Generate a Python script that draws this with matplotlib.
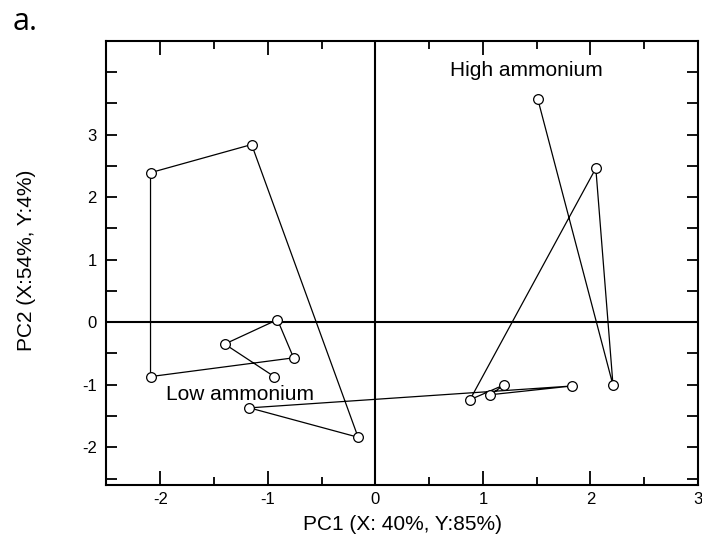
import numpy as np
import matplotlib
matplotlib.use("Agg")
import matplotlib.pyplot as plt
from matplotlib.ticker import MultipleLocator, FixedLocator

plt.rcParams['font.family'] = ['Liberation Sans', 'DejaVu Sans']
plt.rcParams['axes.unicode_minus'] = False

# PCA scores, in sampling order (low ammonium first, then high ammonium)
pc1 = [-0.94, -1.40, -0.91, -0.76, -2.09, -2.09, -1.15, -0.16, -1.17,
       1.83, 1.07, 1.20, 0.88, 2.05, 2.21, 1.51]
pc2 = [-0.87, -0.35, 0.04, -0.57, -0.87, 2.39, 2.84, -1.84, -1.37,
       -1.02, -1.16, -1.00, -1.24, 2.46, -1.01, 3.57]

x_ticks = [-2, -1, 0, 1, 2, 3]
y_ticks = [-2, -1, 0, 1, 2, 3]

fig = plt.figure(figsize=(7.02, 5.47), dpi=100)
ax = fig.add_axes([0.1516, 0.1137, 0.8427, 0.8119])

ax.axhline(0, color='black', lw=1.5, zorder=1)
ax.axvline(0, color='black', lw=1.5, zorder=1)
ax.plot(pc1, pc2, color='black', lw=0.9, marker='o', markersize=7,
        markerfacecolor='white', markeredgecolor='black', markeredgewidth=0.9,
        zorder=3)

ax.text(0.69, 3.93, 'High ammonium', fontsize=15, ha='left', va='baseline')
ax.text(-1.95, -1.25, 'Low ammonium', fontsize=15, ha='left', va='baseline')

ax.set_xlim(-2.5, 3)
ax.set_ylim(-2.6, 4.5)
ax.xaxis.set_major_locator(FixedLocator(x_ticks))
ax.xaxis.set_minor_locator(MultipleLocator(0.5))
ax.yaxis.set_major_locator(FixedLocator(y_ticks))
ax.yaxis.set_minor_locator(MultipleLocator(0.5))

ax.tick_params(axis='both', which='both', direction='in', top=True, right=True,
               labelsize=12, width=1.3)
ax.tick_params(axis='x', which='major', length=10, pad=5)
ax.tick_params(axis='x', which='minor', length=6)
ax.tick_params(axis='y', which='both', length=8, pad=7)

for s in ax.spines.values():
    s.set_linewidth(1.5)

ax.set_xlabel('PC1 (X: 40%, Y:85%)', fontsize=15)
ax.set_ylabel('PC2 (X:54%, Y:4%)', fontsize=15)
ax.xaxis.set_label_coords(0.5, -0.068)
ax.yaxis.set_label_coords(-0.119, 0.506)

fig.text(0.018, 1 - 30 / 547, 'a.', fontsize=22, family=['Open Sans', 'DejaVu Sans'],
         ha='left', va='baseline')

fig.savefig('out.png', dpi=100)
